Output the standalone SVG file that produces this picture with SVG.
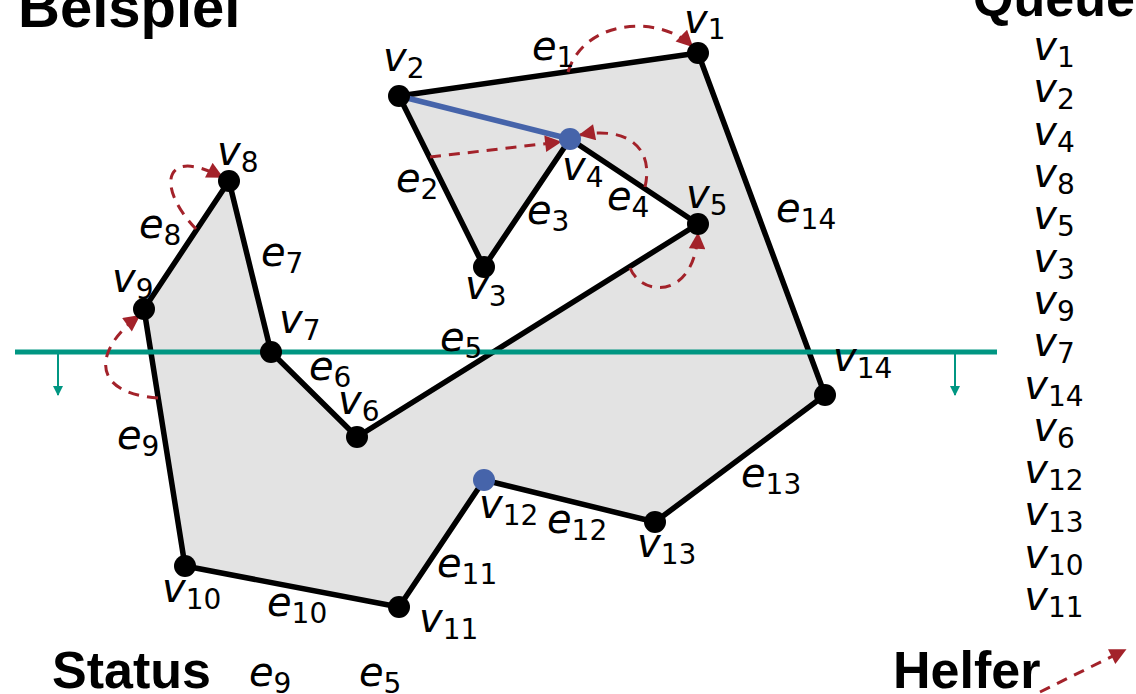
<svg xmlns="http://www.w3.org/2000/svg" width="1136" height="694" viewBox="0 0 1136 694">
<style>
.title{font-family:"Liberation Sans",Arial,sans-serif;font-weight:bold;font-size:52px;fill:#000}
.lab{font-family:"DejaVu Sans",sans-serif;font-style:italic;font-size:40px;fill:#000}
.sub{font-style:normal;font-size:28px}
.edge{fill:none;stroke:#000;stroke-width:5.5;stroke-linejoin:round}
.dot{fill:#000}
.blue{fill:#4664aa}
.help{fill:none;stroke:#a3222a;stroke-width:3;stroke-dasharray:11 8}
.sweep{stroke:#009682;stroke-width:5}
.dir{stroke:#009682;stroke-width:2}
</style>
<defs>
<marker id="ah" viewBox="0 0 10 10" refX="9" refY="5" markerWidth="6" markerHeight="5.5" orient="auto" markerUnits="strokeWidth">
<path d="M0,0 L10,5 L0,10 z" fill="#a3222a"/>
</marker>
<marker id="th" viewBox="0 0 10 10" refX="9" refY="5" markerWidth="5" markerHeight="5" orient="auto" markerUnits="strokeWidth">
<path d="M0,0 L10,5 L0,10 z" fill="#009682"/>
</marker>
</defs>
<rect width="1136" height="694" fill="#fff"/>
<text class="title" x="18" y="27" style="font-size:58px">Beispiel</text>
<text class="title" x="973" y="16">Queue</text>
<text class="title" x="52" y="688">Status</text>
<text class="title" x="893" y="688">Helfer</text>

<g id="polygon">
<path d="M698,53 L399,96 L484,267 L570,139 L698,224 L357,437 L271,352 L229,181 L144,309 L185,566 L399,607 L484,480 L655,522 L825,395 Z" fill="#e3e3e3" stroke="none"/>
</g>

<g id="connectors">
<path class="edge" d="M698,53 L399,96 L484,267 L570,139 L698,224 L357,437 L271,352 L229,181 L144,309 L185,566 L399,607 L484,480 L655,522 L825,395 Z"/>
<line x1="399" y1="96" x2="570" y2="139" stroke="#4664aa" stroke-width="5.5"/>
<line class="sweep" x1="15" y1="352" x2="997" y2="352"/>
<line class="dir" x1="58" y1="354" x2="58" y2="395" marker-end="url(#th)"/>
<line class="dir" x1="955" y1="354" x2="955" y2="395" marker-end="url(#th)"/>
<path class="help" d="M568,72 C585,18 660,15 692,46" marker-end="url(#ah)"/>
<path class="help" d="M430,157 L560,142" marker-end="url(#ah)"/>
<path class="help" d="M645,187 C654,148 628,126 580,135" marker-end="url(#ah)"/>
<path class="help" d="M630,268 C642,297 694,300 698,234" marker-end="url(#ah)"/>
<path class="help" d="M196,229 C158,190 160,145 222,177" marker-end="url(#ah)"/>
<path class="help" d="M158,398 C88,393 95,348 139,316" marker-end="url(#ah)"/>
<path class="help" d="M1040,692 L1125,650" marker-end="url(#ah)"/>
</g>

<g id="v1"><circle class="dot" cx="698" cy="53" r="11"/><text class="lab" x="684" y="33">v<tspan class="sub" dy="6">1</tspan></text></g>
<g id="v2"><circle class="dot" cx="399" cy="96" r="11"/><text class="lab" x="383" y="71">v<tspan class="sub" dy="7">2</tspan></text></g>
<g id="v3"><circle class="dot" cx="484" cy="267" r="11"/><text class="lab" x="465" y="299">v<tspan class="sub" dy="7">3</tspan></text></g>
<g id="v4"><circle class="blue" cx="570" cy="139" r="11"/><text class="lab" x="562" y="180">v<tspan class="sub" dy="7">4</tspan></text></g>
<g id="v5"><circle class="dot" cx="698" cy="224" r="11"/><text class="lab" x="686" y="208">v<tspan class="sub" dy="7">5</tspan></text></g>
<g id="v6"><circle class="dot" cx="357" cy="437" r="11"/><text class="lab" x="338" y="414">v<tspan class="sub" dy="7">6</tspan></text></g>
<g id="v7"><circle class="dot" cx="271" cy="352" r="11"/><text class="lab" x="279" y="333">v<tspan class="sub" dy="7">7</tspan></text></g>
<g id="v8"><circle class="dot" cx="229" cy="181" r="11"/><text class="lab" x="217" y="165">v<tspan class="sub" dy="7">8</tspan></text></g>
<g id="v9"><circle class="dot" cx="144" cy="309" r="11"/><text class="lab" x="112" y="292">v<tspan class="sub" dy="7">9</tspan></text></g>
<g id="v10"><circle class="dot" cx="185" cy="566" r="11"/><text class="lab" x="162" y="602">v<tspan class="sub" dy="7">10</tspan></text></g>
<g id="v11"><circle class="dot" cx="399" cy="607" r="11"/><text class="lab" x="419" y="632">v<tspan class="sub" dy="7">11</tspan></text></g>
<g id="v12"><circle class="blue" cx="484" cy="480" r="11"/><text class="lab" x="479" y="518">v<tspan class="sub" dy="7">12</tspan></text></g>
<g id="v13"><circle class="dot" cx="655" cy="522" r="11"/><text class="lab" x="637" y="557">v<tspan class="sub" dy="7">13</tspan></text></g>
<g id="v14"><circle class="dot" cx="825" cy="395" r="11"/><text class="lab" x="833" y="371">v<tspan class="sub" dy="7">14</tspan></text></g>

<g id="edge-labels">
<text class="lab" x="532" y="60">e<tspan class="sub" dy="7">1</tspan></text>
<text class="lab" x="396" y="192">e<tspan class="sub" dy="7">2</tspan></text>
<text class="lab" x="527" y="224">e<tspan class="sub" dy="7">3</tspan></text>
<text class="lab" x="607" y="210">e<tspan class="sub" dy="7">4</tspan></text>
<text class="lab" x="440" y="351">e<tspan class="sub" dy="7">5</tspan></text>
<text class="lab" x="309" y="380">e<tspan class="sub" dy="7">6</tspan></text>
<text class="lab" x="261" y="266">e<tspan class="sub" dy="7">7</tspan></text>
<text class="lab" x="139" y="238">e<tspan class="sub" dy="7">8</tspan></text>
<text class="lab" x="117" y="449">e<tspan class="sub" dy="7">9</tspan></text>
<text class="lab" x="267" y="616">e<tspan class="sub" dy="7">10</tspan></text>
<text class="lab" x="437" y="577">e<tspan class="sub" dy="7">11</tspan></text>
<text class="lab" x="547" y="533">e<tspan class="sub" dy="7">12</tspan></text>
<text class="lab" x="741" y="487">e<tspan class="sub" dy="7">13</tspan></text>
<text class="lab" x="776" y="222">e<tspan class="sub" dy="7">14</tspan></text>
</g>

<g id="status">
<text class="lab" x="249" y="686">e<tspan class="sub" dy="7">9</tspan></text>
<text class="lab" x="359" y="686">e<tspan class="sub" dy="7">5</tspan></text>
</g>

<g id="queue" text-anchor="middle">
<text class="lab" x="1054" y="60">v<tspan class="sub" dy="7">1</tspan></text>
<text class="lab" x="1054" y="102">v<tspan class="sub" dy="7">2</tspan></text>
<text class="lab" x="1054" y="145">v<tspan class="sub" dy="7">4</tspan></text>
<text class="lab" x="1054" y="187">v<tspan class="sub" dy="7">8</tspan></text>
<text class="lab" x="1054" y="229">v<tspan class="sub" dy="7">5</tspan></text>
<text class="lab" x="1054" y="272">v<tspan class="sub" dy="7">3</tspan></text>
<text class="lab" x="1054" y="314">v<tspan class="sub" dy="7">9</tspan></text>
<text class="lab" x="1054" y="356">v<tspan class="sub" dy="7">7</tspan></text>
<text class="lab" x="1054" y="399">v<tspan class="sub" dy="7">14</tspan></text>
<text class="lab" x="1054" y="441">v<tspan class="sub" dy="7">6</tspan></text>
<text class="lab" x="1054" y="483">v<tspan class="sub" dy="7">12</tspan></text>
<text class="lab" x="1054" y="525">v<tspan class="sub" dy="7">13</tspan></text>
<text class="lab" x="1054" y="568">v<tspan class="sub" dy="7">10</tspan></text>
<text class="lab" x="1054" y="610">v<tspan class="sub" dy="7">11</tspan></text>
</g>
</svg>
